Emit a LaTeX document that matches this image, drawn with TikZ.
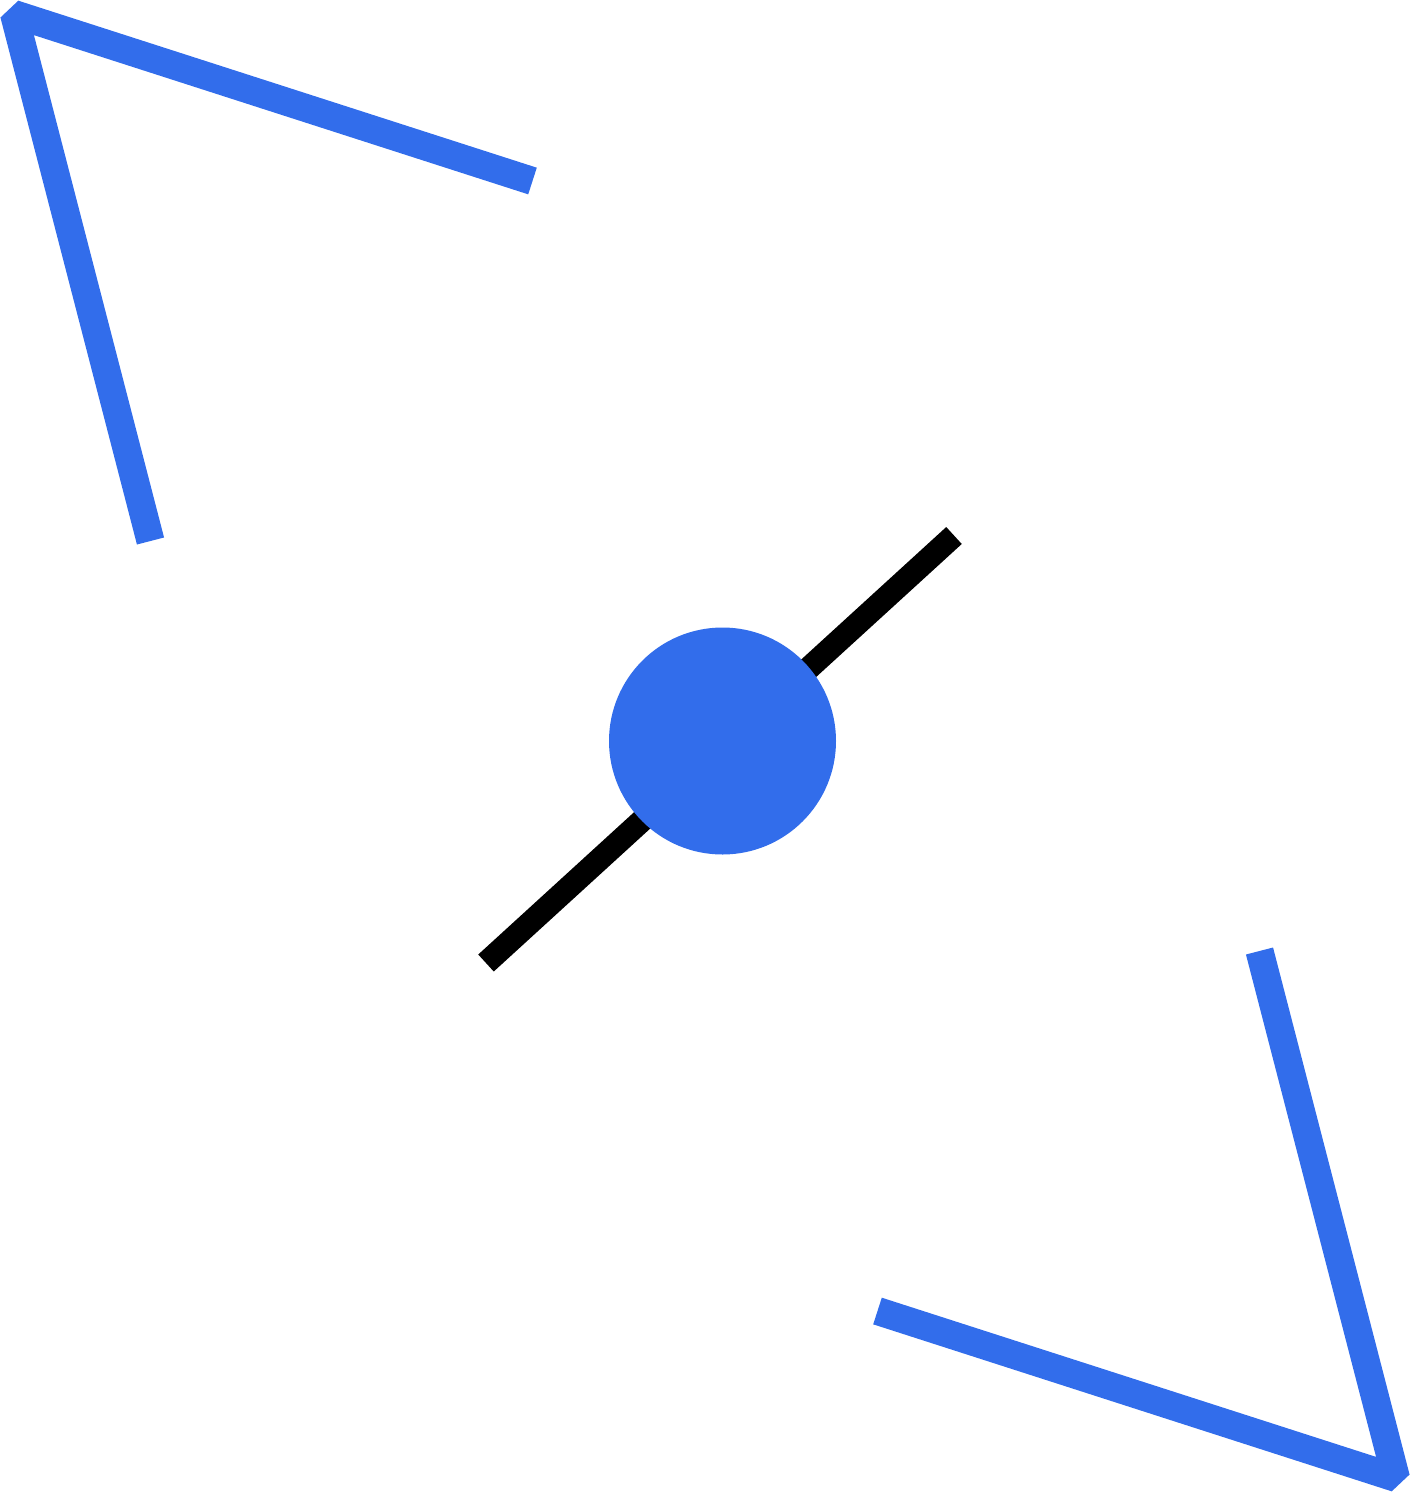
\documentclass[tikz,border=0pt]{standalone}
\definecolor{iconblue}{RGB}{50,109,235}
\begin{document}
\begin{tikzpicture}[x=1pt,y=-1pt,
  bluestroke/.style={draw=iconblue,line width=28pt,line join=bevel,line cap=butt},
  blackstroke/.style={draw=black,line width=23pt,line cap=butt}]
\useasboundingbox (0,0) rectangle (1410,1492);
\coordinate (a1) at (150.5,541);
\coordinate (a2) at (14,14);
\coordinate (a3) at (532.5,181);
\coordinate (b1) at (1259.5,951);
\coordinate (b2) at (1396,1478);
\coordinate (b3) at (877.5,1311);
\coordinate (l1) at (486,963);
\coordinate (l2) at (954,535.5);
\coordinate (c) at (722.5,741);
\draw[bluestroke] (a1) -- (a2) -- (a3);
\draw[bluestroke] (b1) -- (b2) -- (b3);
\draw[blackstroke] (l1) -- (l2);
\fill[iconblue] (c) circle (113.5);
\end{tikzpicture}
\end{document}
